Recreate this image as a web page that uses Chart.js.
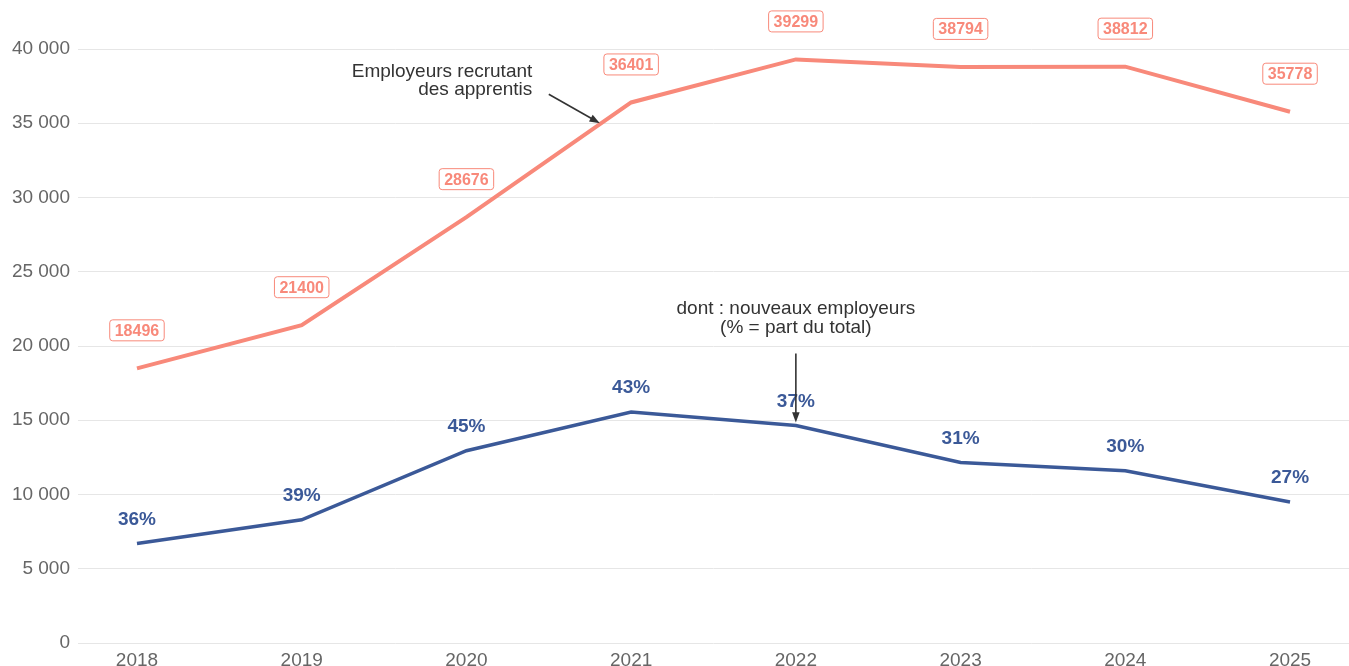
<!DOCTYPE html>
<html>
<head>
<meta charset="utf-8">
<script src="https://cdn.jsdelivr.net/npm/chart.js@4"></script>
<style>
  html, body { margin: 0; padding: 0; background: #fff; overflow: hidden; }
  #wrap { width: 1349px; height: 666px; }
</style>
</head>
<body>
<div id="wrap"><canvas id="chart"></canvas></div>
<script>
const years = [2018, 2019, 2020, 2021, 2022, 2023, 2024, 2025];
const employeurs = [18496, 21400, 28676, 36401, 39299, 38794, 38812, 35778];
const nouveaux = [6700, 8300, 12950, 15550, 14650, 12150, 11600, 9500];
const partNouveaux = ['36%', '39%', '45%', '43%', '37%', '31%', '30%', '27%'];

const ORANGE = '#f8897a';
const BLUE = '#3b5998';
const FONT = '"Liberation Sans", Arial, sans-serif';

const fmt = v => String(v).replace(/\B(?=(\d{3})+(?!\d))/g, ' ');

// labels above the points + the two annotations
const labelPlugin = {
  id: 'labels',
  afterDatasetsDraw(chart) {
    const ctx = chart.ctx;
    const x = chart.scales.x, y = chart.scales.y;
    ctx.save();

    // boxed labels, orange series
    ctx.font = 'bold 16px ' + FONT;
    ctx.textAlign = 'center';
    ctx.textBaseline = 'middle';
    chart.getDatasetMeta(0).data.forEach((pt, i) => {
      const txt = String(employeurs[i]);
      const w = ctx.measureText(txt).width + 10;
      const h = 21;
      const cx = pt.x, cy = pt.y - 38;
      ctx.fillStyle = '#fff';
      ctx.strokeStyle = ORANGE;
      ctx.lineWidth = 1;
      ctx.beginPath();
      ctx.roundRect(cx - w / 2, cy - h / 2, w, h, 3);
      ctx.fill();
      ctx.stroke();
      ctx.fillStyle = ORANGE;
      ctx.fillText(txt, cx, cy + 1);
    });

    // percentages, blue series
    ctx.font = 'bold 19px ' + FONT;
    ctx.fillStyle = BLUE;
    chart.getDatasetMeta(1).data.forEach((pt, i) => {
      ctx.fillText(partNouveaux[i], pt.x, pt.y - 24);
    });

    // annotations
    ctx.fillStyle = '#333';
    ctx.strokeStyle = '#333';
    ctx.font = '19px ' + FONT;
    ctx.textAlign = 'right';
    ctx.fillText('Employeurs recrutant', x.getPixelForValue(2020.4), y.getPixelForValue(38500));
    ctx.fillText('des apprentis', x.getPixelForValue(2020.4), y.getPixelForValue(37250));
    drawArrow(ctx, x.getPixelForValue(2020.5), y.getPixelForValue(36950),
      x.getPixelForValue(2020.81), y.getPixelForValue(35000));

    ctx.textAlign = 'center';
    ctx.fillText('dont : nouveaux employeurs', x.getPixelForValue(2022), y.getPixelForValue(22500));
    ctx.fillText('(% = part du total)', x.getPixelForValue(2022), y.getPixelForValue(21200));
    drawArrow(ctx, x.getPixelForValue(2022), y.getPixelForValue(19500),
      x.getPixelForValue(2022), y.getPixelForValue(14850));
    ctx.restore();
  }
};

function drawArrow(ctx, x1, y1, x2, y2) {
  const a = Math.atan2(y2 - y1, x2 - x1);
  const len = 11;
  ctx.lineWidth = 1.6;
  ctx.beginPath();
  ctx.moveTo(x1, y1);
  ctx.lineTo(x2 - Math.cos(a) * 6, y2 - Math.sin(a) * 6);
  ctx.stroke();
  ctx.beginPath();
  ctx.moveTo(x2, y2);
  ctx.lineTo(x2 - len * Math.cos(a - 0.35), y2 - len * Math.sin(a - 0.35));
  ctx.lineTo(x2 - len * Math.cos(a + 0.35), y2 - len * Math.sin(a + 0.35));
  ctx.closePath();
  ctx.fill();
}

new Chart(document.getElementById('chart'), {
  type: 'line',
  data: {
    datasets: [
      {
        label: 'Employeurs recrutant des apprentis',
        data: years.map((yr, i) => ({ x: yr, y: employeurs[i] })),
        borderColor: ORANGE,
        borderWidth: 4,
        pointRadius: 0,
        tension: 0
      },
      {
        label: 'dont : nouveaux employeurs',
        data: years.map((yr, i) => ({ x: yr, y: nouveaux[i] })),
        borderColor: BLUE,
        borderWidth: 3.5,
        pointRadius: 0,
        tension: 0
      }
    ]
  },
  options: {
    responsive: true,
    maintainAspectRatio: false,
    animation: false,
    layout: { padding: { top: 49, right: 0, bottom: 0, left: 0 } },
    plugins: { legend: { display: false }, tooltip: { enabled: false } },
    scales: {
      x: {
        type: 'linear',
        min: 2017.642,
        max: 2025.358,
        grid: { display: false, drawTicks: false },
        border: { display: false },
        afterBuildTicks(s) { s.ticks = years.map(v => ({ value: v })); },
        afterFit(s) { s.height = 23; },
        ticks: {
          autoSkip: false,
          maxRotation: 0,
          padding: 6,
          color: '#666',
          font: { size: 19, family: FONT },
          callback: v => String(v)
        }
      },
      y: {
        min: 0,
        max: 40000,
        grid: { color: '#e6e6e6', lineWidth: 1, drawTicks: false },
        border: { display: false },
        afterFit(s) { s.width = 78; },
        ticks: {
          stepSize: 5000,
          padding: 8,
          color: '#666',
          font: { size: 19, family: FONT },
          callback: v => fmt(v)
        }
      }
    }
  },
  plugins: [labelPlugin]
});
</script>
</body>
</html>
